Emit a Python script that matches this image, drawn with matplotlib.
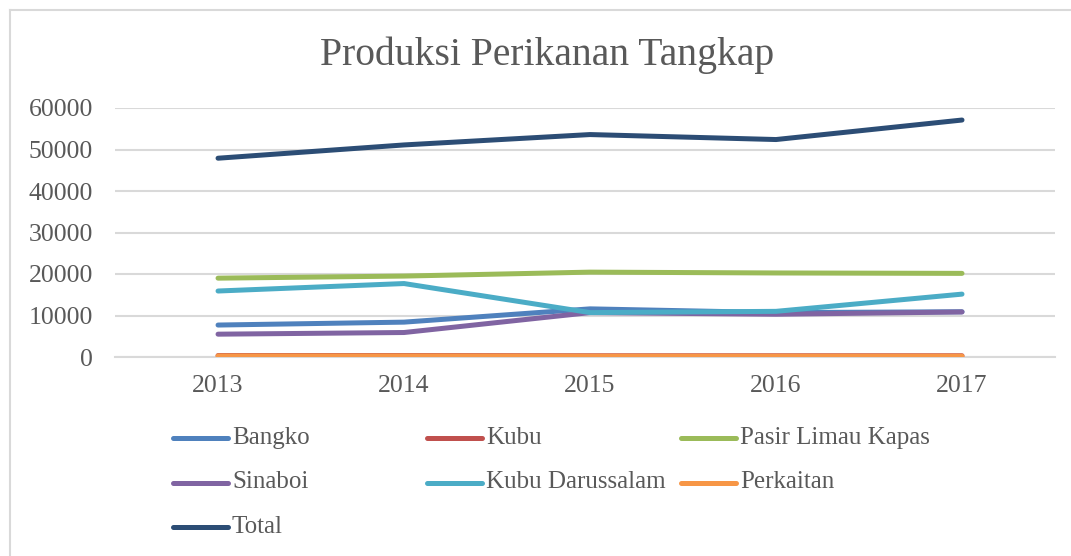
import matplotlib.pyplot as plt
from matplotlib.lines import Line2D

years = ["2013", "2014", "2015", "2016", "2017"]

bangko = [7700, 8400, 11600, 10700, 10900]
kubu = [350, 350, 300, 300, 300]
pasir_limau_kapas = [19000, 19500, 20450, 20250, 20150]
sinaboi = [5500, 5900, 10700, 10300, 10850]
kubu_darussalam = [15900, 17700, 10700, 11000, 15150]
perkaitan = [250, 250, 200, 200, 200]
total = [47900, 51100, 53600, 52400, 57100]

series = [
    ("Bangko", bangko, "#4F81BD"),
    ("Kubu", kubu, "#C0504D"),
    ("Pasir Limau Kapas", pasir_limau_kapas, "#9BBB59"),
    ("Sinaboi", sinaboi, "#8064A2"),
    ("Kubu Darussalam", kubu_darussalam, "#4BACC6"),
    ("Perkaitan", perkaitan, "#F79646"),
    ("Total", total, "#2C4D75"),
]

W, H = 1071, 556
TEXT = "#595959"
GRID = "#D9D9D9"
FONT = "Liberation Serif"

fig = plt.figure(figsize=(W / 100, H / 100), dpi=100)
ax = fig.add_axes([115 / W, 1 - 357 / H, (1055 - 115) / W, (357 - 108) / H])

x = range(len(years))
for name, vals, color in series:
    ax.plot(x, vals, color=color, lw=3.6, solid_capstyle="round",
            solid_joinstyle="round", zorder=3)

ax.set_xlim(-0.554, len(years) - 0.5)
ax.set_ylim(0, 60000)
ax.set_yticks(range(0, 60001, 10000))
ax.set_xticks(list(x))
ax.set_xticklabels(years)
ax.yaxis.grid(True, color=GRID, lw=1.5)
ax.set_axisbelow(True)
for s in ["top", "right", "left"]:
    ax.spines[s].set_visible(False)
ax.spines["bottom"].set_color(GRID)
ax.spines["bottom"].set_linewidth(1.5)
ax.tick_params(length=0, colors=TEXT, labelsize=18.5)
ax.tick_params(axis="y", pad=16)
ax.tick_params(axis="x", pad=13)
for lab in ax.get_xticklabels() + ax.get_yticklabels():
    lab.set_fontfamily(FONT)

fig.text(547 / W, 1 - 55 / H, "Produksi Perikanan Tangkap", ha="center",
         va="center", fontsize=28.5, color=TEXT, family=FONT)

# Excel-style legend, equal-width columns
for i, (name, vals, color) in enumerate(series):
    col, row = i % 3, i // 3
    x0 = 173 + col * 254
    y0 = 438 + row * 44.5
    fig.add_artist(Line2D([x0 / W, (x0 + 55) / W], [1 - y0 / H, 1 - y0 / H],
                          color=color, lw=3.6, solid_capstyle="round",
                          transform=fig.transFigure))
    fig.text((x0 + 59) / W, 1 - y0 / H, name, ha="left", va="center",
             fontsize=18, color=TEXT, family=FONT)

# chart border
fig.add_artist(Line2D([10 / W, 1], [1 - 10 / H, 1 - 10 / H], color=GRID,
                      lw=1.5, transform=fig.transFigure))
fig.add_artist(Line2D([10 / W, 10 / W], [1 - 10 / H, 0], color=GRID,
                      lw=1.5, transform=fig.transFigure))

fig.savefig("out.png", dpi=100, facecolor="white")
